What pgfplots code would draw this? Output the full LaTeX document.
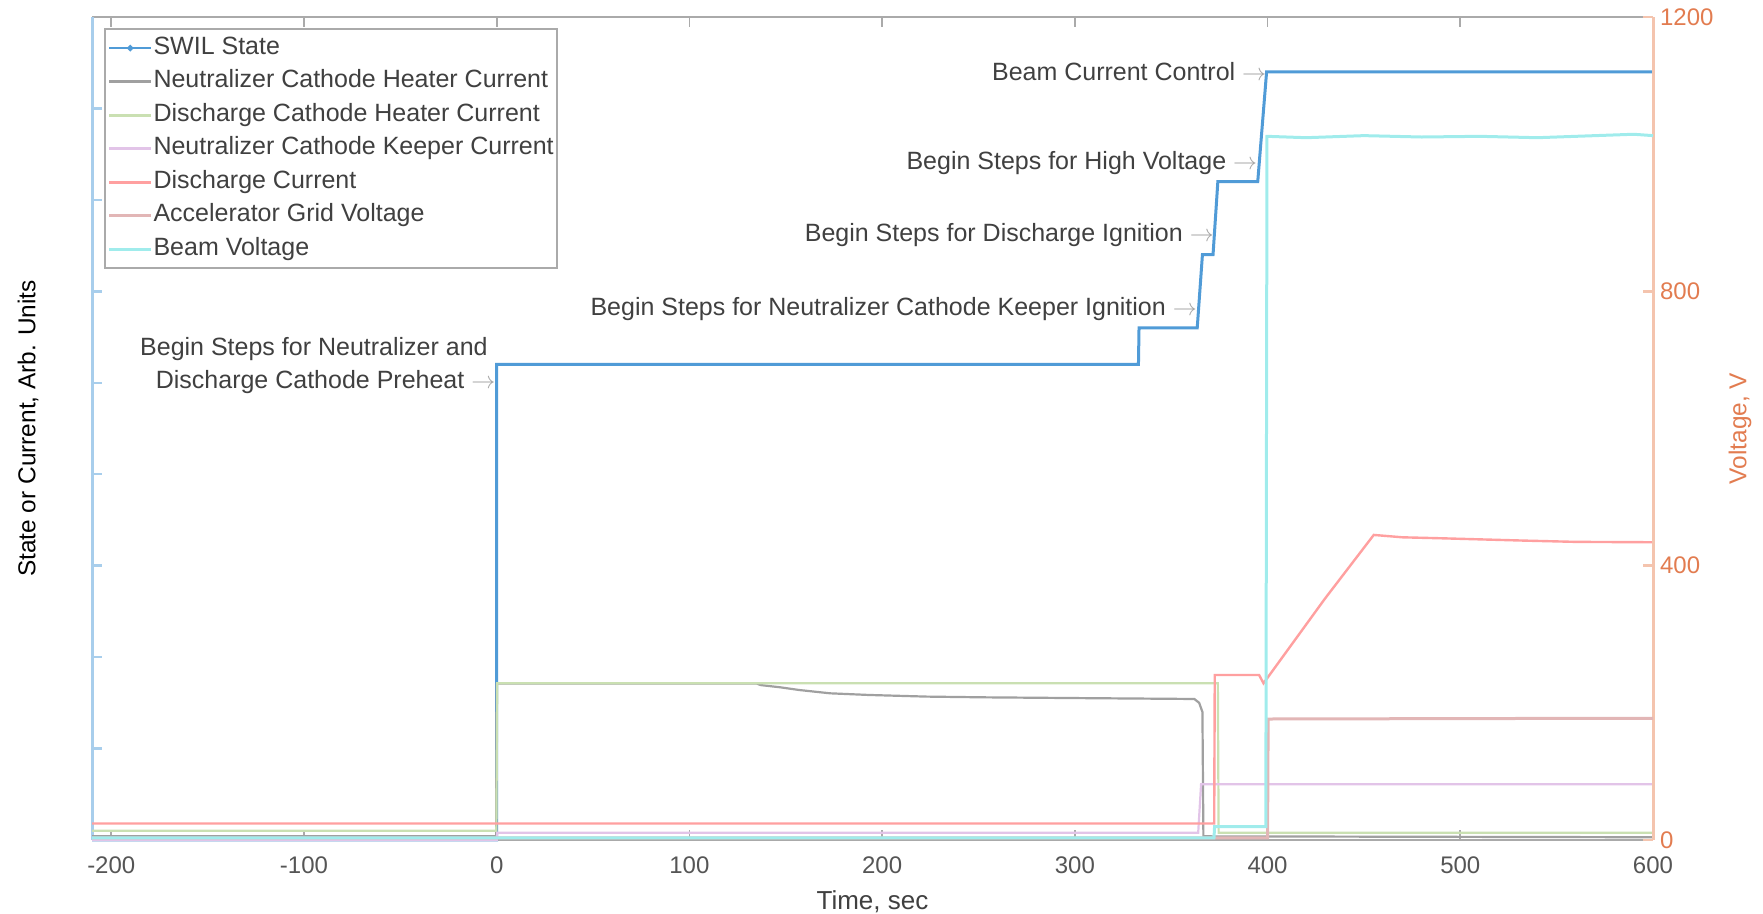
\documentclass[border=0pt]{standalone}
\usepackage{pgfplots}
\pgfplotsset{compat=1.18}
\usepackage{fontspec}
\setmainfont{Liberation Sans}

\definecolor{swil}{RGB}{80,155,215}
\definecolor{nch}{RGB}{160,160,160}
\definecolor{dch}{RGB}{202,224,178}
\definecolor{nck}{RGB}{226,196,232}
\definecolor{dcur}{RGB}{255,160,160}
\definecolor{accel}{RGB}{226,182,182}
\definecolor{beam}{RGB}{160,236,236}
\definecolor{txt}{RGB}{64,64,64}
\definecolor{ticktxt}{RGB}{85,85,85}
\definecolor{axgray}{RGB}{170,170,170}
\definecolor{arrowgray}{RGB}{165,165,165}
\definecolor{lblue}{RGB}{168,206,236}
\definecolor{lorange}{RGB}{244,196,174}
\definecolor{vorange}{RGB}{226,124,80}

\newcommand{\tickfont}{\fontsize{12}{14}\selectfont}
\newcommand{\anfont}{\fontsize{12.5}{15}\selectfont}
\newcommand{\labfont}{\fontsize{13}{15}\selectfont}
\newcommand{\ylabfont}{\fontsize{12.2}{14}\selectfont}

\pgfplotstableread{
x y
-210 0
0 0
0 26
333 26
333.3 28
363.5 28
366.2 32
371.7 32
374.2 36
394.9 36
399.5 42
600 42
}\swiltab

\pgfplotstableread{
x y
-210 0.2
-0.3 0.2
0 8.55
135 8.55
137 8.47
147 8.35
157 8.2
173 8.02
193 7.93
223 7.84
253 7.80
312 7.75
362 7.71
364.5 7.5
366.2 7.0
366.7 0.2
600 0.15
}\nchtab

\pgfplotstableread{
x y
-210 0.5
-0.2 0.5
0.3 8.57
374.2 8.57
374.6 0.4
600 0.4
}\dchtab

\pgfplotstableread{
x y
-210 0
0 0
0.3 0.4
364 0.4
365.5 3.05
600 3.05
}\ncktab

\pgfplotstableread{
x y
-210 0.9
372.3 0.9
372.6 9.02
395.6 9.02
397.9 8.57
429.8 13.2
455.1 16.68
470 16.55
489 16.5
533 16.37
560 16.3
600 16.28
}\dcurtab

\pgfplotstableread{
x y
-210 3
372 3
400 3
400.3 176.4
500 177
600 177.5
}\acceltab

\pgfplotstableread{
x y
-210 3
372.2 3
372.5 19.4
399.1 19.4
399.7 1026
420 1024
450 1027
480 1025
510 1026
540 1024
570 1027
590 1029
600 1027
}\beamtab

\begin{document}
\begin{tikzpicture}
\path[use as bounding box] (0,0) rectangle (881.5pt,457pt);

\begin{axis}[
  at={(46pt,37pt)}, anchor=south west,
  scale only axis, width=780.5pt, height=411.5pt,
  xmin=-210, xmax=600, ymin=0, ymax=45,
  axis x line*=box, axis y line*=left,
  xtick={-200,-100,...,600}, ytick={0,5,...,45}, yticklabels={},
  tick align=inside, major tick length=5pt,
  x axis line style={draw=axgray, line width=0.8pt},
  y axis line style={draw=lblue, line width=1.5pt},
  x tick style={draw=axgray, line width=0.8pt},
  y tick style={draw=lblue, line width=1.2pt},
  xticklabel style={text=ticktxt, font=\tickfont, yshift=-5pt},
  /pgf/number format/assume math mode=true,
  /pgf/number format/1000 sep={},
  xlabel={Time, sec},
  xlabel style={text=txt, font=\labfont, at={(axis description cs:0.5,-0.0745)}, anchor=center},
  ylabel={State or Current, Arb. Units},
  ylabel style={text=black, font=\ylabfont, at={(axis description cs:-0.041,0.5)}, anchor=center},
  clip=false,
]
\addplot[swil, line width=1.5pt, forget plot] table[x=x,y=y] {\swiltab};
\addplot[nch, line width=1.1pt, forget plot] table[x=x,y=y] {\nchtab};
\addplot[dch, line width=1.1pt, forget plot] table[x=x,y=y] {\dchtab};
\addplot[nck, line width=1.1pt, forget plot] table[x=x,y=y] {\ncktab};
\addplot[dcur, line width=1.2pt, forget plot] table[x=x,y=y] {\dcurtab};

\node[anchor=east, inner sep=0pt, text=txt, font=\anfont] at (axis cs:399.5,42) {Beam Current Control \textcolor{arrowgray}{$\rightarrow$}};
\node[anchor=east, inner sep=0pt, text=txt, font=\anfont] at (axis cs:394.8,37.0) {Begin Steps for High Voltage \textcolor{arrowgray}{$\rightarrow$}};
\node[anchor=east, inner sep=0pt, text=txt, font=\anfont] at (axis cs:372.3,33.08) {Begin Steps for Discharge Ignition \textcolor{arrowgray}{$\rightarrow$}};
\node[anchor=east, inner sep=0pt, text=txt, font=\anfont] at (axis cs:363.5,29.02) {Begin Steps for Neutralizer Cathode Keeper Ignition \textcolor{arrowgray}{$\rightarrow$}};
\node[anchor=east, inner sep=0pt, text=txt, font=\anfont] at (axis cs:-4.5,26.83) {Begin Steps for Neutralizer and};
\node[anchor=east, inner sep=0pt, text=txt, font=\anfont] at (axis cs:-0.5,25.06) {Discharge Cathode Preheat \textcolor{arrowgray}{$\rightarrow$}};
\end{axis}

\begin{axis}[
  at={(46pt,37pt)}, anchor=south west,
  scale only axis, width=780.5pt, height=411.5pt,
  xmin=-210, xmax=600, ymin=0, ymax=1200,
  axis x line=none, axis y line*=right,
  ytick={0,400,800,1200},
  tick align=inside, major tick length=5pt,
  y axis line style={draw=lorange, line width=1.5pt},
  y tick style={draw=lorange, line width=1.2pt},
  yticklabel style={text=vorange, font=\tickfont},
  /pgf/number format/assume math mode=true,
  /pgf/number format/1000 sep={},
  ylabel={Voltage, V},
  ylabel style={text=vorange, font=\ylabfont, at={(axis description cs:1.0557,0.5)}, anchor=center},
  legend cell align=left,
  legend image code/.code={\draw[mark repeat=2,mark phase=2,#1] plot coordinates {(0pt,0pt) (10.4pt,0pt) (20.8pt,0pt)};},
  legend style={at={(axis description cs:0.0077,0.9863)}, anchor=north west,
    draw=axgray, line width=0.9pt, fill=white, text=txt, font=\anfont,
    inner xsep=1.5pt, inner ysep=3.5pt,
    nodes={inner sep=0pt, text height=9pt, text depth=3pt},
    row sep=4.75pt,
    /tikz/every odd column/.append style={column sep=0.5pt},
    /tikz/every even column/.append style={column sep=3pt}},
]
\addlegendimage{swil, line width=1.2pt, mark=*, mark size=0.9pt}
\addlegendentry{SWIL State}
\addlegendimage{nch, line width=1.5pt}
\addlegendentry{Neutralizer Cathode Heater Current}
\addlegendimage{dch, line width=1.5pt}
\addlegendentry{Discharge Cathode Heater Current}
\addlegendimage{nck, line width=1.5pt}
\addlegendentry{Neutralizer Cathode Keeper Current}
\addlegendimage{dcur, line width=1.5pt}
\addlegendentry{Discharge Current}
\addplot[accel, line width=1.5pt] table[x=x,y=y] {\acceltab};
\addlegendentry{Accelerator Grid Voltage}
\addplot[beam, line width=1.5pt] table[x=x,y=y] {\beamtab};
\addlegendentry{Beam Voltage}
\end{axis}
\end{tikzpicture}
\end{document}
